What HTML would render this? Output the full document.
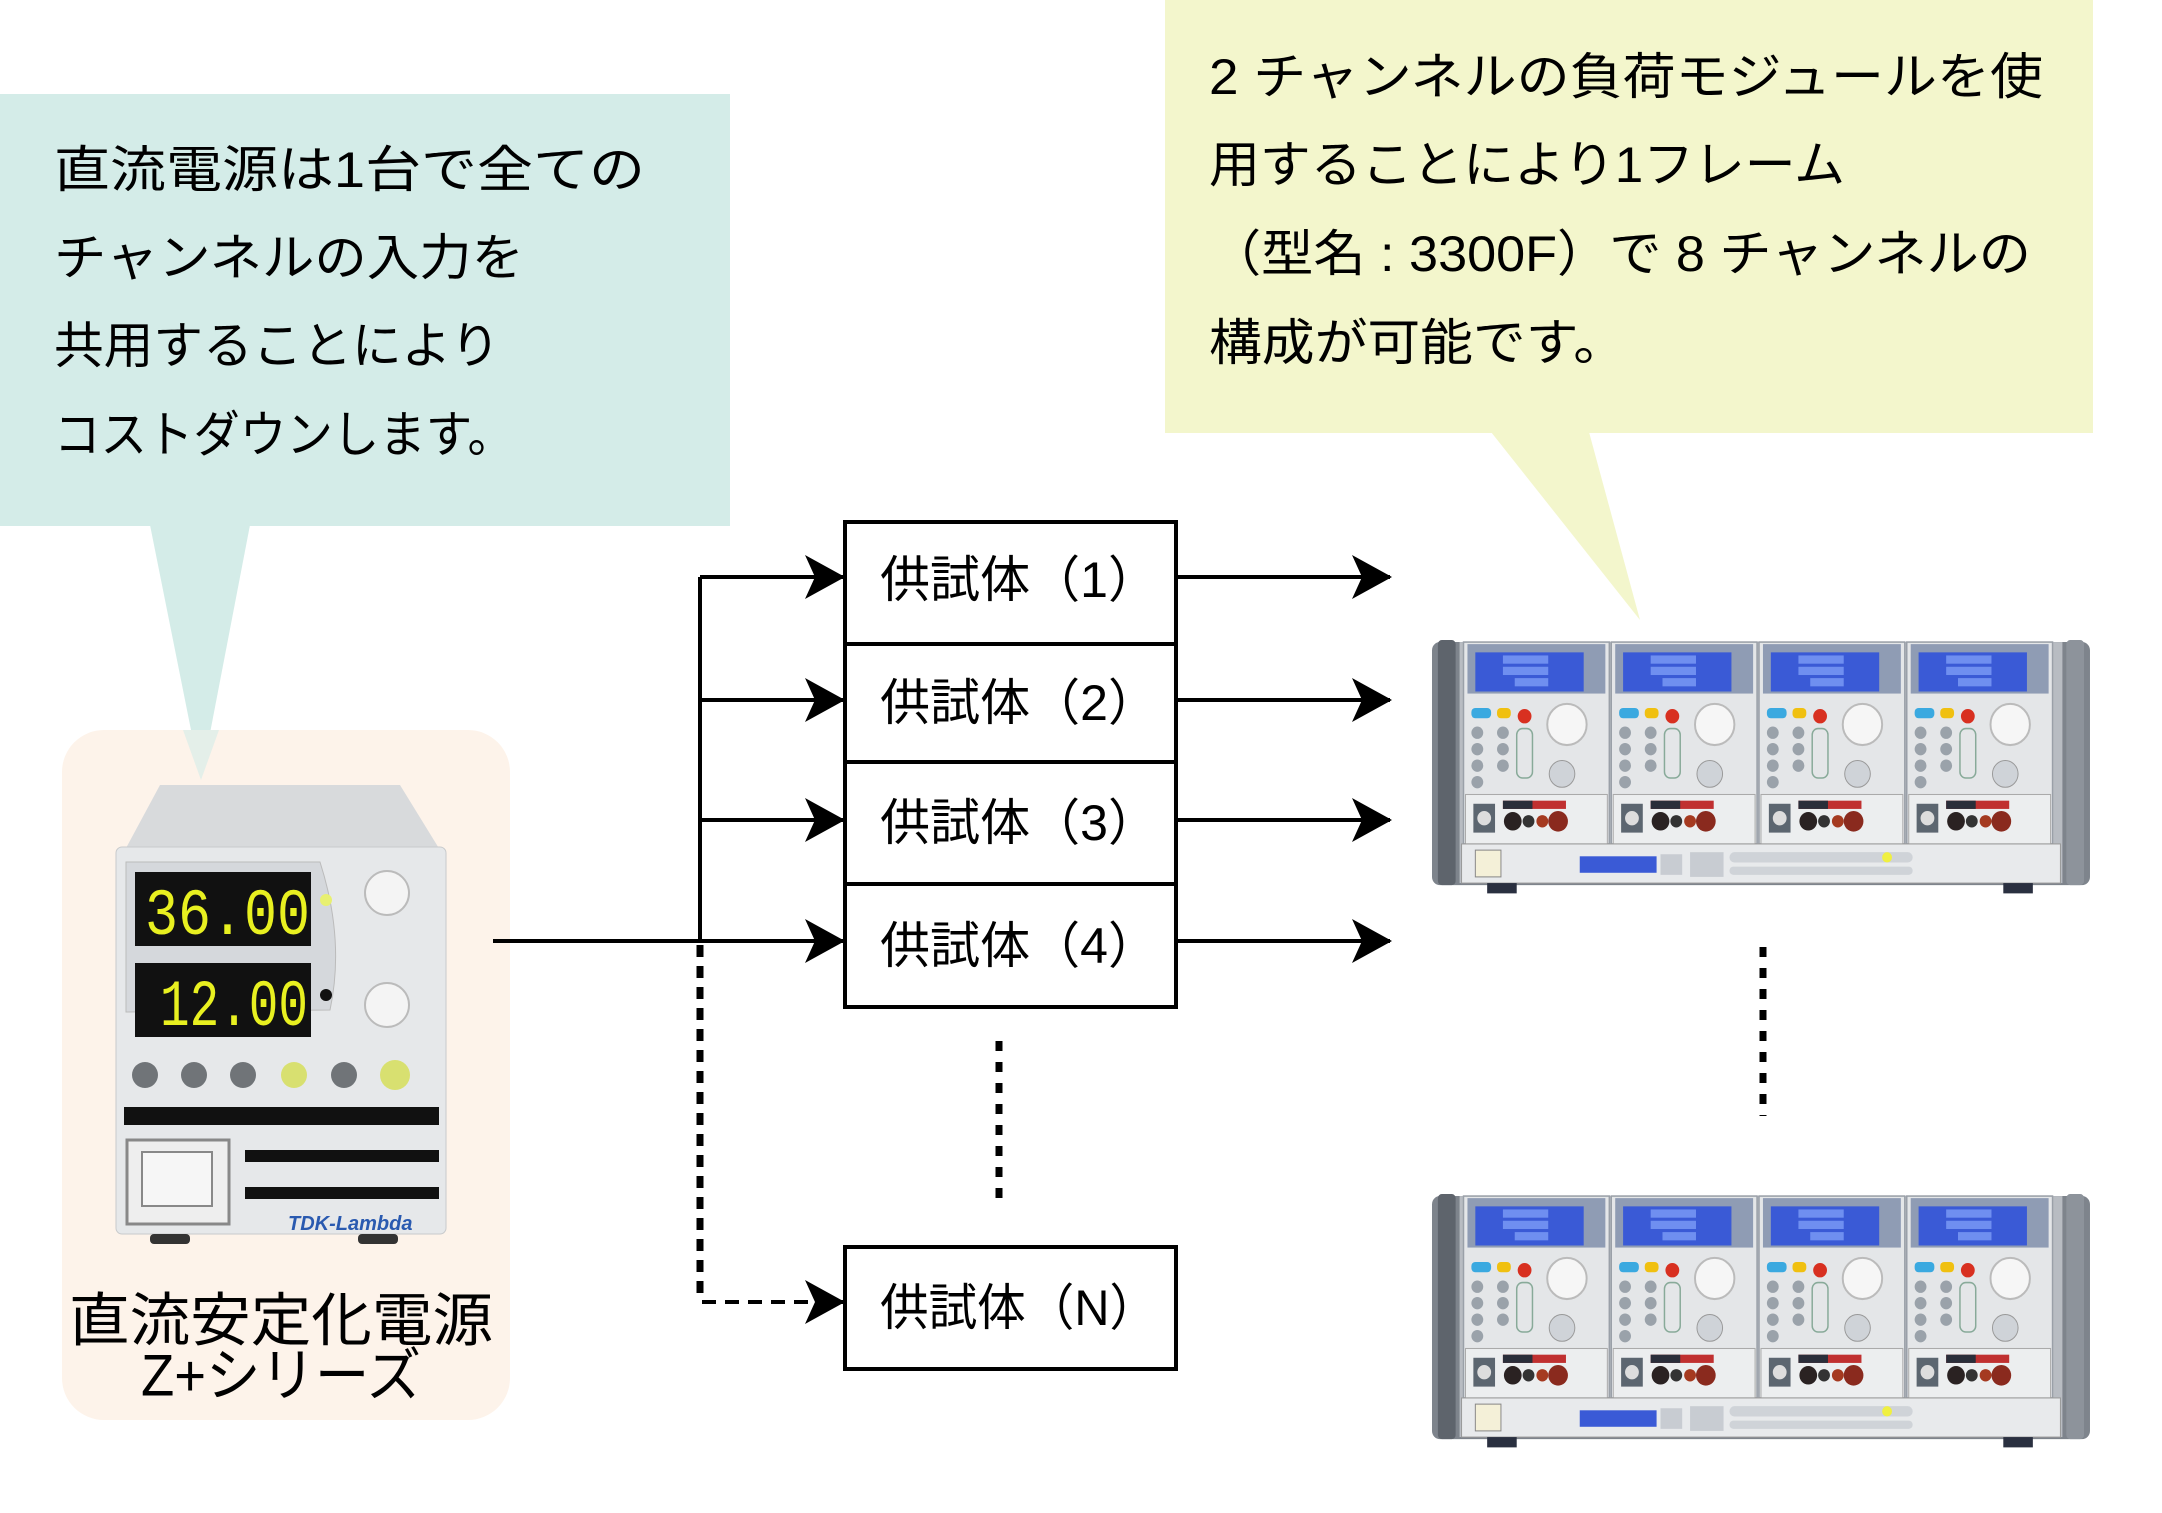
<!DOCTYPE html>
<html><head><meta charset="utf-8">
<style>
html,body{margin:0;padding:0;background:#fff;}
svg{display:block;}
text{font-family:"Liberation Sans","Noto Sans CJK JP",sans-serif;fill:#000;}
</style></head>
<body>
<svg width="2162" height="1513" viewBox="0 0 2162 1513" xmlns="http://www.w3.org/2000/svg">
<defs>
<marker id="ah" viewBox="0 0 40 44" refX="38" refY="22" markerWidth="40" markerHeight="44" markerUnits="userSpaceOnUse" orient="auto">
<path d="M0,0 L40,22 L0,44 L10,22 Z" fill="#000"/>
</marker>
<g id="mod">
  <rect x="0" y="0" width="148" height="196" fill="#e4e6e8" stroke="#9aa0a8" stroke-width="1.5"/>
  <rect x="4" y="2" width="140" height="48" fill="#8f9cb4"/>
  <rect x="12" y="10" width="110" height="38" fill="#3a5ad6"/>
  <rect x="40" y="13" width="46" height="8" fill="#6f8ff0"/>
  <rect x="40" y="24" width="46" height="8" fill="#6f8ff0"/>
  <rect x="52" y="35" width="34" height="8" fill="#6f8ff0"/>
  <rect x="8" y="64" width="20" height="10" rx="4" fill="#3aa9e0"/>
  <rect x="34" y="64" width="14" height="10" rx="4" fill="#f0c010"/>
  <circle cx="62" cy="72" r="7" fill="#d83020"/>
  <circle cx="105" cy="80" r="20" fill="#f6f6f6" stroke="#bbb" stroke-width="2"/>
  <circle cx="14" cy="88" r="6" fill="#9aa2aa"/><circle cx="40" cy="88" r="6" fill="#9aa2aa"/>
  <circle cx="14" cy="104" r="6" fill="#9aa2aa"/><circle cx="40" cy="104" r="6" fill="#9aa2aa"/>
  <circle cx="14" cy="120" r="6" fill="#9aa2aa"/><circle cx="40" cy="120" r="6" fill="#9aa2aa"/>
  <circle cx="14" cy="136" r="6" fill="#9aa2aa"/>
  <rect x="54" y="84" width="16" height="48" rx="6" fill="none" stroke="#8a9" stroke-width="1.5"/>
  <circle cx="100" cy="128" r="13" fill="#cfd3d8" stroke="#999"/>
  <rect x="2" y="148" width="144" height="48" fill="#eceeef" stroke="#aaa"/>
  <rect x="10" y="157" width="22" height="28" fill="#5c6670"/>
  <circle cx="21" cy="171" r="7" fill="#ddd"/>
  <rect x="40" y="154" width="64" height="8" fill="#c03030"/>
  <rect x="40" y="154" width="30" height="8" fill="#2a2e3a"/>
  <circle cx="50" cy="174" r="9" fill="#2a2222"/><circle cx="66" cy="174" r="6" fill="#333"/>
  <circle cx="80" cy="174" r="6" fill="#a53a20"/><circle cx="96" cy="174" r="10" fill="#8a2a1e"/>
</g>
<g id="dev">
  <rect x="0" y="2" width="668" height="236" rx="8" fill="#7e848c"/>
  <rect x="6" y="0" width="18" height="238" rx="4" fill="#5e646c"/>
  <rect x="644" y="0" width="18" height="238" rx="4" fill="#8d939b"/>
  <rect x="28" y="2" width="612" height="234" fill="#b8bcc2"/>
  <use href="#mod" x="32" y="2"/>
  <use href="#mod" x="182" y="2"/>
  <use href="#mod" x="332" y="2"/>
  <use href="#mod" x="482" y="2"/>
  <rect x="30" y="198" width="608" height="38" fill="#e8eaec" stroke="#999"/>
  <rect x="44" y="204" width="26" height="26" fill="#f4f0d8" stroke="#888"/>
  <rect x="150" y="210" width="78" height="16" fill="#3a5ad6"/>
  <rect x="232" y="208" width="22" height="20" fill="#c8ccd2"/>
  <rect x="262" y="206" width="34" height="24" fill="#c8ccd2"/>
  <rect x="302" y="206" width="186" height="10" rx="5" fill="#cfd3d8"/>
  <rect x="302" y="220" width="186" height="8" rx="4" fill="#cfd3d8"/>
  <circle cx="462" cy="211" r="5" fill="#f0f040"/>
  <rect x="56" y="236" width="30" height="10" fill="#2a3040"/>
  <rect x="580" y="236" width="30" height="10" fill="#2a3040"/>
</g>
</defs>

<!-- blue callout -->
<rect x="0" y="94" width="730" height="432" fill="#d4ece8"/>
<polygon points="150,525 250,525 201,780" fill="#d4ece8"/>
<!-- peach box -->
<rect x="62" y="730" width="448" height="690" rx="42" fill="#fdf3ea"/>
<polygon points="183,730 219,730 201,780" fill="#d4ece8" opacity="0.6"/>

<text x="54" y="170" font-size="50" dominant-baseline="central" textLength="591" lengthAdjust="spacingAndGlyphs">直流電源は1台で全ての</text>
<text x="54" y="258" font-size="50" dominant-baseline="central" textLength="470" lengthAdjust="spacingAndGlyphs">チャンネルの入力を</text>
<text x="54" y="346" font-size="50" dominant-baseline="central" textLength="446" lengthAdjust="spacingAndGlyphs">共用することにより</text>
<text x="54" y="435" font-size="50" dominant-baseline="central" textLength="460" lengthAdjust="spacingAndGlyphs">コストダウンします。</text>

<!-- yellow callout -->
<rect x="1165" y="0" width="928" height="433" fill="#f3f6cc"/>
<polygon points="1491,432 1589,432 1640,620" fill="#f3f6cc"/>
<text x="1209" y="77" font-size="50" dominant-baseline="central" textLength="834" lengthAdjust="spacingAndGlyphs">2 チャンネルの負荷モジュールを使</text>
<text x="1209" y="165" font-size="50" dominant-baseline="central" textLength="636" lengthAdjust="spacingAndGlyphs">用することにより1フレーム</text>
<text x="1209" y="254" font-size="50" dominant-baseline="central" textLength="822" lengthAdjust="spacingAndGlyphs">（型名 : 3300F）で 8 チャンネルの</text>
<text x="1209" y="343" font-size="50" dominant-baseline="central" textLength="417" lengthAdjust="spacingAndGlyphs">構成が可能です。</text>

<!-- power supply -->
<g>
  <polygon points="160,785 400,785 440,850 125,850" fill="#d8dadc"/>
  <rect x="116" y="847" width="330" height="387" rx="6" fill="#e6e8ea" stroke="#c8cacc"/>
  <path d="M126,862 H320 Q345,940 330,1010 L126,1012 Z" fill="#d5d8dc" stroke="#bbb"/>
  <rect x="135" y="872" width="176" height="74" fill="#111"/>
  <text x="145" y="934" font-size="66" style="fill:#e8f020;font-family:'Liberation Mono',monospace" textLength="165" lengthAdjust="spacingAndGlyphs">36.00</text>
  <rect x="135" y="963" width="176" height="74" fill="#111"/>
  <text x="160" y="1025" font-size="66" style="fill:#e8f020;font-family:'Liberation Mono',monospace" textLength="148" lengthAdjust="spacingAndGlyphs">12.00</text>
  <circle cx="326" cy="900" r="6" fill="#e8f070"/>
  <circle cx="326" cy="995" r="6" fill="#111"/>
  <circle cx="387" cy="893" r="22" fill="#f4f4f4" stroke="#bbb" stroke-width="2"/>
  <circle cx="387" cy="1005" r="22" fill="#f4f4f4" stroke="#bbb" stroke-width="2"/>
  <circle cx="145" cy="1075" r="13" fill="#707478"/>
  <circle cx="194" cy="1075" r="13" fill="#707478"/>
  <circle cx="243" cy="1075" r="13" fill="#707478"/>
  <circle cx="294" cy="1075" r="13" fill="#d8e070"/>
  <circle cx="344" cy="1075" r="13" fill="#707478"/>
  <circle cx="395" cy="1075" r="15" fill="#d8e070"/>
  <rect x="124" y="1107" width="315" height="18" fill="#111"/>
  <rect x="245" y="1150" width="194" height="12" fill="#111"/>
  <rect x="245" y="1187" width="194" height="12" fill="#111"/>
  <rect x="127" y="1140" width="102" height="84" fill="#eee" stroke="#888" stroke-width="3"/>
  <rect x="142" y="1152" width="70" height="54" fill="#f6f6f6" stroke="#888" stroke-width="2"/>
  <text x="288" y="1230" font-size="20" style="fill:#2a5ab0;font-style:italic;font-weight:bold">TDK-Lambda</text>
  <rect x="150" y="1234" width="40" height="10" rx="4" fill="#333"/>
  <rect x="358" y="1234" width="40" height="10" rx="4" fill="#333"/>
</g>
<text x="69" y="1321" font-size="58" dominant-baseline="central" textLength="424" lengthAdjust="spacingAndGlyphs">直流安定化電源</text>
<text x="141" y="1376" font-size="58" dominant-baseline="central" textLength="280" lengthAdjust="spacingAndGlyphs">Z+シリーズ</text>

<!-- connectors -->
<g stroke="#000" stroke-width="4" fill="none">
  <line x1="700" y1="577" x2="700" y2="941"/>
  <line x1="493" y1="941" x2="843" y2="941" marker-end="url(#ah)"/>
  <line x1="700" y1="577" x2="843" y2="577" marker-end="url(#ah)"/>
  <line x1="700" y1="700" x2="843" y2="700" marker-end="url(#ah)"/>
  <line x1="700" y1="820" x2="843" y2="820" marker-end="url(#ah)"/>
  <line x1="700" y1="945" x2="700" y2="1302" stroke-width="7" stroke-dasharray="12,9"/>
  <line x1="702" y1="1302" x2="843" y2="1302" stroke-dasharray="14,9" marker-end="url(#ah)"/>
  <line x1="999" y1="1041" x2="999" y2="1208" stroke-width="7" stroke-dasharray="10,11"/>
  <line x1="1763" y1="947" x2="1763" y2="1116" stroke-width="7" stroke-dasharray="10,11"/>
  <line x1="1178" y1="577" x2="1390" y2="577" marker-end="url(#ah)"/>
  <line x1="1178" y1="700" x2="1390" y2="700" marker-end="url(#ah)"/>
  <line x1="1178" y1="820" x2="1390" y2="820" marker-end="url(#ah)"/>
  <line x1="1178" y1="941" x2="1390" y2="941" marker-end="url(#ah)"/>
</g>

<!-- boxes -->
<g stroke="#000" stroke-width="4" fill="#fff">
  <rect x="845" y="522" width="331" height="122"/>
  <rect x="845" y="644" width="331" height="118"/>
  <rect x="845" y="762" width="331" height="122"/>
  <rect x="845" y="884" width="331" height="123"/>
  <rect x="845" y="1247" width="331" height="122"/>
</g>
<text x="880" y="580" font-size="50" dominant-baseline="central" textLength="278" lengthAdjust="spacingAndGlyphs">供試体（1）</text>
<text x="880" y="703" font-size="50" dominant-baseline="central" textLength="278" lengthAdjust="spacingAndGlyphs">供試体（2）</text>
<text x="880" y="823" font-size="50" dominant-baseline="central" textLength="278" lengthAdjust="spacingAndGlyphs">供試体（3）</text>
<text x="880" y="946" font-size="50" dominant-baseline="central" textLength="278" lengthAdjust="spacingAndGlyphs">供試体（4）</text>
<text x="880" y="1308" font-size="50" dominant-baseline="central" textLength="278" lengthAdjust="spacingAndGlyphs">供試体（N）</text>

<!-- devices -->
<g transform="translate(1432,640) scale(0.985,1.03)"><use href="#dev"/></g>
<g transform="translate(1432,1194) scale(0.985,1.03)"><use href="#dev"/></g>
</svg>
</body></html>
